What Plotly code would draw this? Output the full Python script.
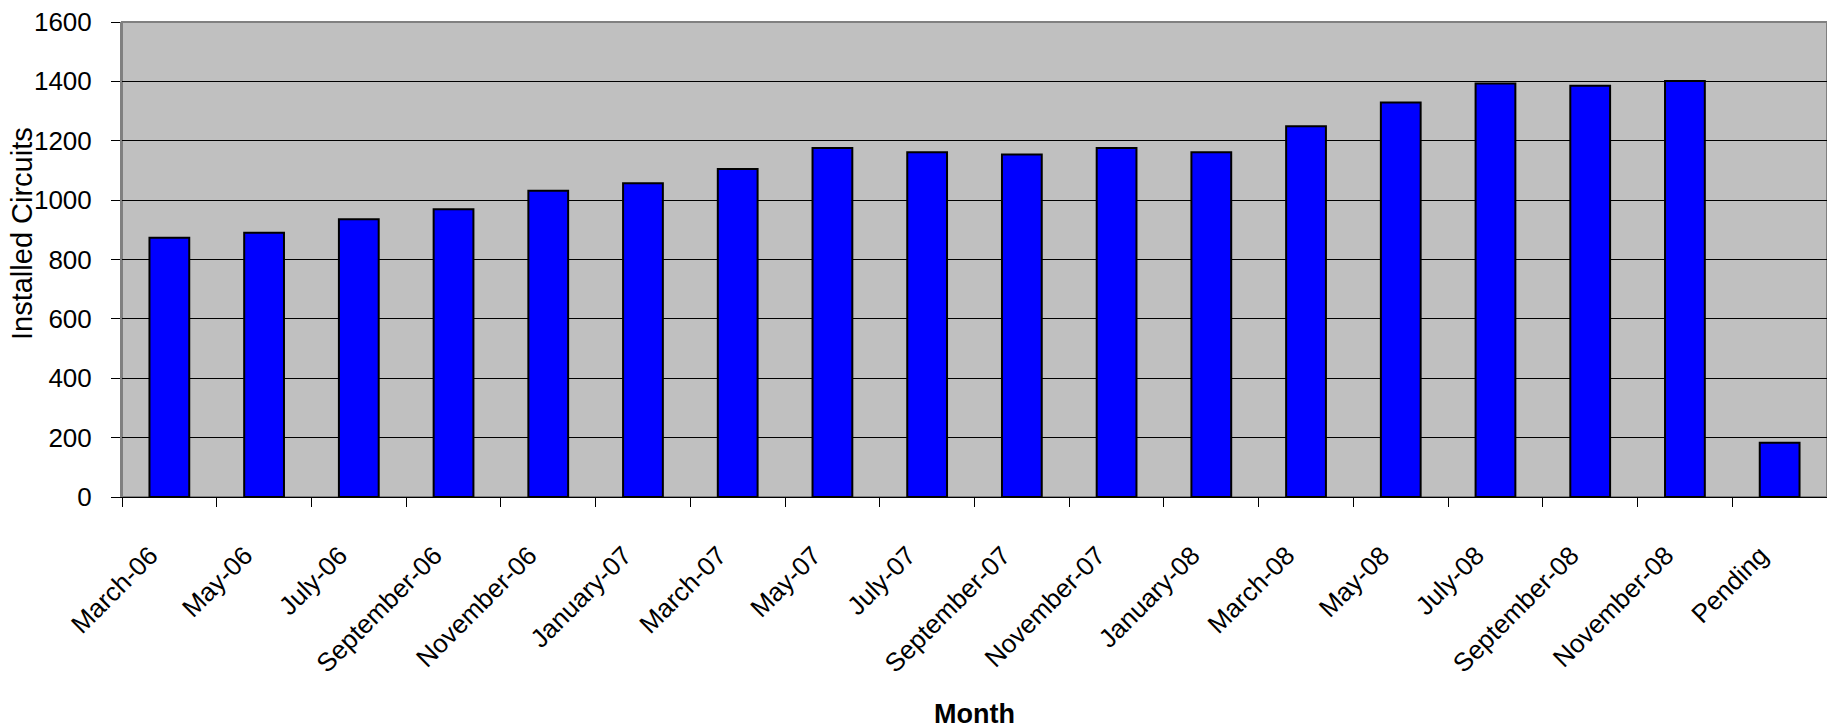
import plotly.graph_objects as go

months = ["March-06", "May-06", "July-06", "September-06", "November-06",
          "January-07", "March-07", "May-07", "July-07", "September-07",
          "November-07", "January-08", "March-08", "May-08", "July-08",
          "September-08", "November-08", "Pending"]
installed = [873, 890, 936, 969, 1032, 1057, 1105, 1176, 1161, 1154,
             1176, 1161, 1249, 1329, 1393, 1385, 1401, 183]
y_ticks = [0, 200, 400, 600, 800, 1000, 1200, 1400, 1600]

FONT = "Liberation Sans, Arial, sans-serif"

W, H = 1835, 727
OFF = 8  # the page body margin shifts the figure by this much
# plot area edges in page pixels
PL, PT, PR, PB = 122, 22, 1827, 497
L, T = PL - OFF, PT - OFF
R = W - (PR - OFF)
B = H - (PB - OFF)
PW, PH = PR - PL, PB - PT

fig = go.Figure(go.Bar(
    x=months, y=installed,
    marker=dict(color="#0000FF", line=dict(color="#000000", width=2)),
))

fig.update_layout(
    width=W, height=H,
    margin=dict(l=L, r=R, t=T, b=B),
    paper_bgcolor="#FFFFFF",
    plot_bgcolor="#C0C0C0",
    bargap=0.58,
    showlegend=False,
    font=dict(family=FONT, color="#000000", size=26),
)

fig.update_xaxes(
    type="category",
    tickangle=-45,
    tickson="boundaries",
    ticks="outside", ticklen=9, tickcolor="#000000", tickwidth=1,
    showline=True, linecolor="#000000", linewidth=1,
    showgrid=False,
    tickfont=dict(family=FONT, size=26),
    ticklabelstandoff=32,
    ticklabelshift=-19,
    title=dict(text="<b>Month</b>", font=dict(family=FONT, size=27), standoff=26),
    automargin=False,
)

fig.update_yaxes(
    range=[0, 1600],
    tickvals=y_ticks,
    ticks="outside", ticklen=9, tickcolor="#000000", tickwidth=1,
    showline=True, linecolor="#808080", linewidth=2,
    showgrid=True, gridcolor="#000000", gridwidth=1,
    zeroline=False,
    tickfont=dict(family=FONT, size=26),
    ticklabelstandoff=14,
    ticklabeloverflow="allow",
    automargin=False,
)

# y axis title as rotated text, placed where the reference has it
fig.add_annotation(
    text="Installed Circuits", textangle=-90, showarrow=False,
    xref="paper", yref="paper",
    x=(22 - PL) / PW, y=(PB - 234) / PH,
    xanchor="center", yanchor="middle",
    borderpad=0,
    font=dict(family=FONT, size=29, color="#000000"),
)

# plot area border (gray frame on top and right)
fig.add_shape(type="rect", xref="paper", yref="paper", x0=0, y0=0, x1=1, y1=1,
              line=dict(color="#808080", width=2), layer="below")

fig.write_html("out.html")
